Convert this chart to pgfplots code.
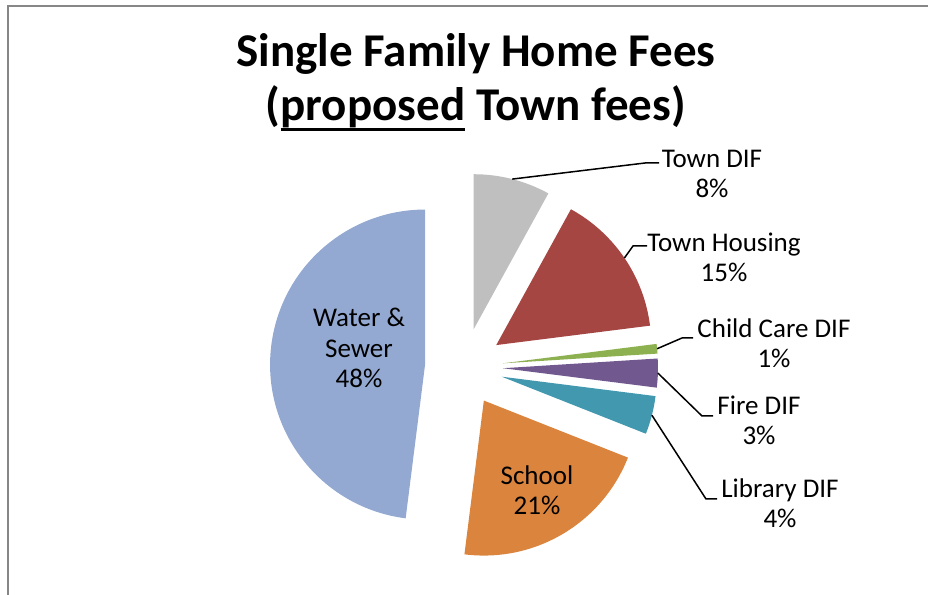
\documentclass[border=0pt]{standalone}
\usepackage{pgfplots}
\usepackage{pgfplotstable}
\pgfplotsset{compat=1.18}
\usepackage{fontspec}
\setmainfont{Carlito}

\definecolor{cTown}{HTML}{BFBFBF}
\definecolor{cHousing}{HTML}{A64643}
\definecolor{cChild}{HTML}{8DB051}
\definecolor{cFire}{HTML}{71598F}
\definecolor{cLibrary}{HTML}{4198AF}
\definecolor{cSchool}{HTML}{DB843D}
\definecolor{cWater}{HTML}{93A9D1}

% share of each fee, clockwise from 12 o'clock
\pgfplotstableread{
slice value color
TownDIF 8 cTown
TownHousing 15 cHousing
ChildCare 1 cChild
Fire 3 cFire
Library 4 cLibrary
School 21 cSchool
Water 48 cWater
}\piedata

\newcommand{\labfont}{\fontsize{13.5}{15}\selectfont}
\newcommand{\titlefont}{\bfseries\fontsize{23.5}{25}\selectfont}
\newcommand{\myul}[1]{\setbox0\hbox{#1}\rlap{\rule[-5.2pt]{\wd0}{1.5pt}}\box0\relax}
% two-line label: centre x, first baseline y, text, text
\newcommand{\lab}[4]{%
  \node[anchor=base,font=\labfont,inner sep=0pt] at (axis cs:#1,#2) {#3};
  \node[anchor=base,font=\labfont,inner sep=0pt] at (axis cs:#1,#2-30) {#4};
}

\begin{document}
\begin{tikzpicture}
\begin{axis}[
    scale only axis,
    width=464pt, height=297.5pt,
    xmin=0, xmax=928, ymin=0, ymax=595,
    hide axis,
    clip=false,
]
% frame
\draw[color=black!47, line width=1pt] (axis cs:8,0) -- (axis cs:8,589) -- (axis cs:928,589);

% slices: centre (464,228), radius 155, every slice pulled out by 39
\pgfplotstablegetrowsof{\piedata}
\pgfmathtruncatemacro\N{\pgfplotsretval-1}
\def\angacc{90}
\pgfplotsforeachungrouped \i in {0,...,\N}{
  \pgfplotstablegetelem{\i}{value}\of\piedata \let\v\pgfplotsretval
  \pgfplotstablegetelem{\i}{color}\of\piedata \let\c\pgfplotsretval
  \pgfmathsetmacro\a{\angacc}
  \pgfmathsetmacro\b{\angacc-3.6*\v}
  \pgfmathsetmacro\m{(\a+\b)/2}
  \pgfmathsetmacro\cx{464+39*cos(\m)}
  \pgfmathsetmacro\cy{228+39*sin(\m)}
  \pgfmathsetmacro\px{\cx+155*cos(\m)}
  \pgfmathsetmacro\py{\cy+155*sin(\m)}
  \edef\temp{%
    \noexpand\fill[\c] (axis cs:\cx,\cy) -- ++(\a:77.5pt)
      arc[start angle=\a, end angle=\b, radius=77.5pt] -- cycle;
    \noexpand\coordinate (m\i) at (axis cs:\px,\py);
  }
  \temp
  \global\let\angacc\b
}

% leader lines
\draw[line width=0.75pt] (m0) -- (axis cs:645,432) -- (axis cs:659,432);
\draw[line width=0.75pt] (m1) -- (axis cs:633,349) -- (axis cs:647,349);
\draw[line width=0.75pt] (m2) -- (axis cs:682,257) -- (axis cs:693,257);
\draw[line width=0.75pt] (m3) -- (axis cs:702,179) -- (axis cs:713,179);
\draw[line width=0.75pt] (m4) -- (axis cs:706,96) -- (axis cs:717,96);

% labels
\lab{712}{427}{Town DIF}{8\%}
\lab{724}{343}{Town Housing}{15\%}
\lab{774}{257}{Child Care DIF}{1\%}
\lab{759}{180}{Fire DIF}{3\%}
\lab{780}{97}{Library DIF}{4\%}
\lab{537}{110}{School}{21\%}
\node[anchor=base,font=\labfont,inner sep=0pt] at (axis cs:359,268) {Water \&};
\lab{359}{237}{Sewer}{48\%}

% title
\node[anchor=base,inner sep=0pt,font=\titlefont] at (axis cs:476,528) {Single Family Home Fees};
\node[anchor=base,inner sep=0pt,font=\titlefont] at (axis cs:476,474) {(\myul{proposed} Town fees)};
\end{axis}
\pgfresetboundingbox
\path (current axis.south west) rectangle (current axis.north east);
\end{tikzpicture}
\end{document}
